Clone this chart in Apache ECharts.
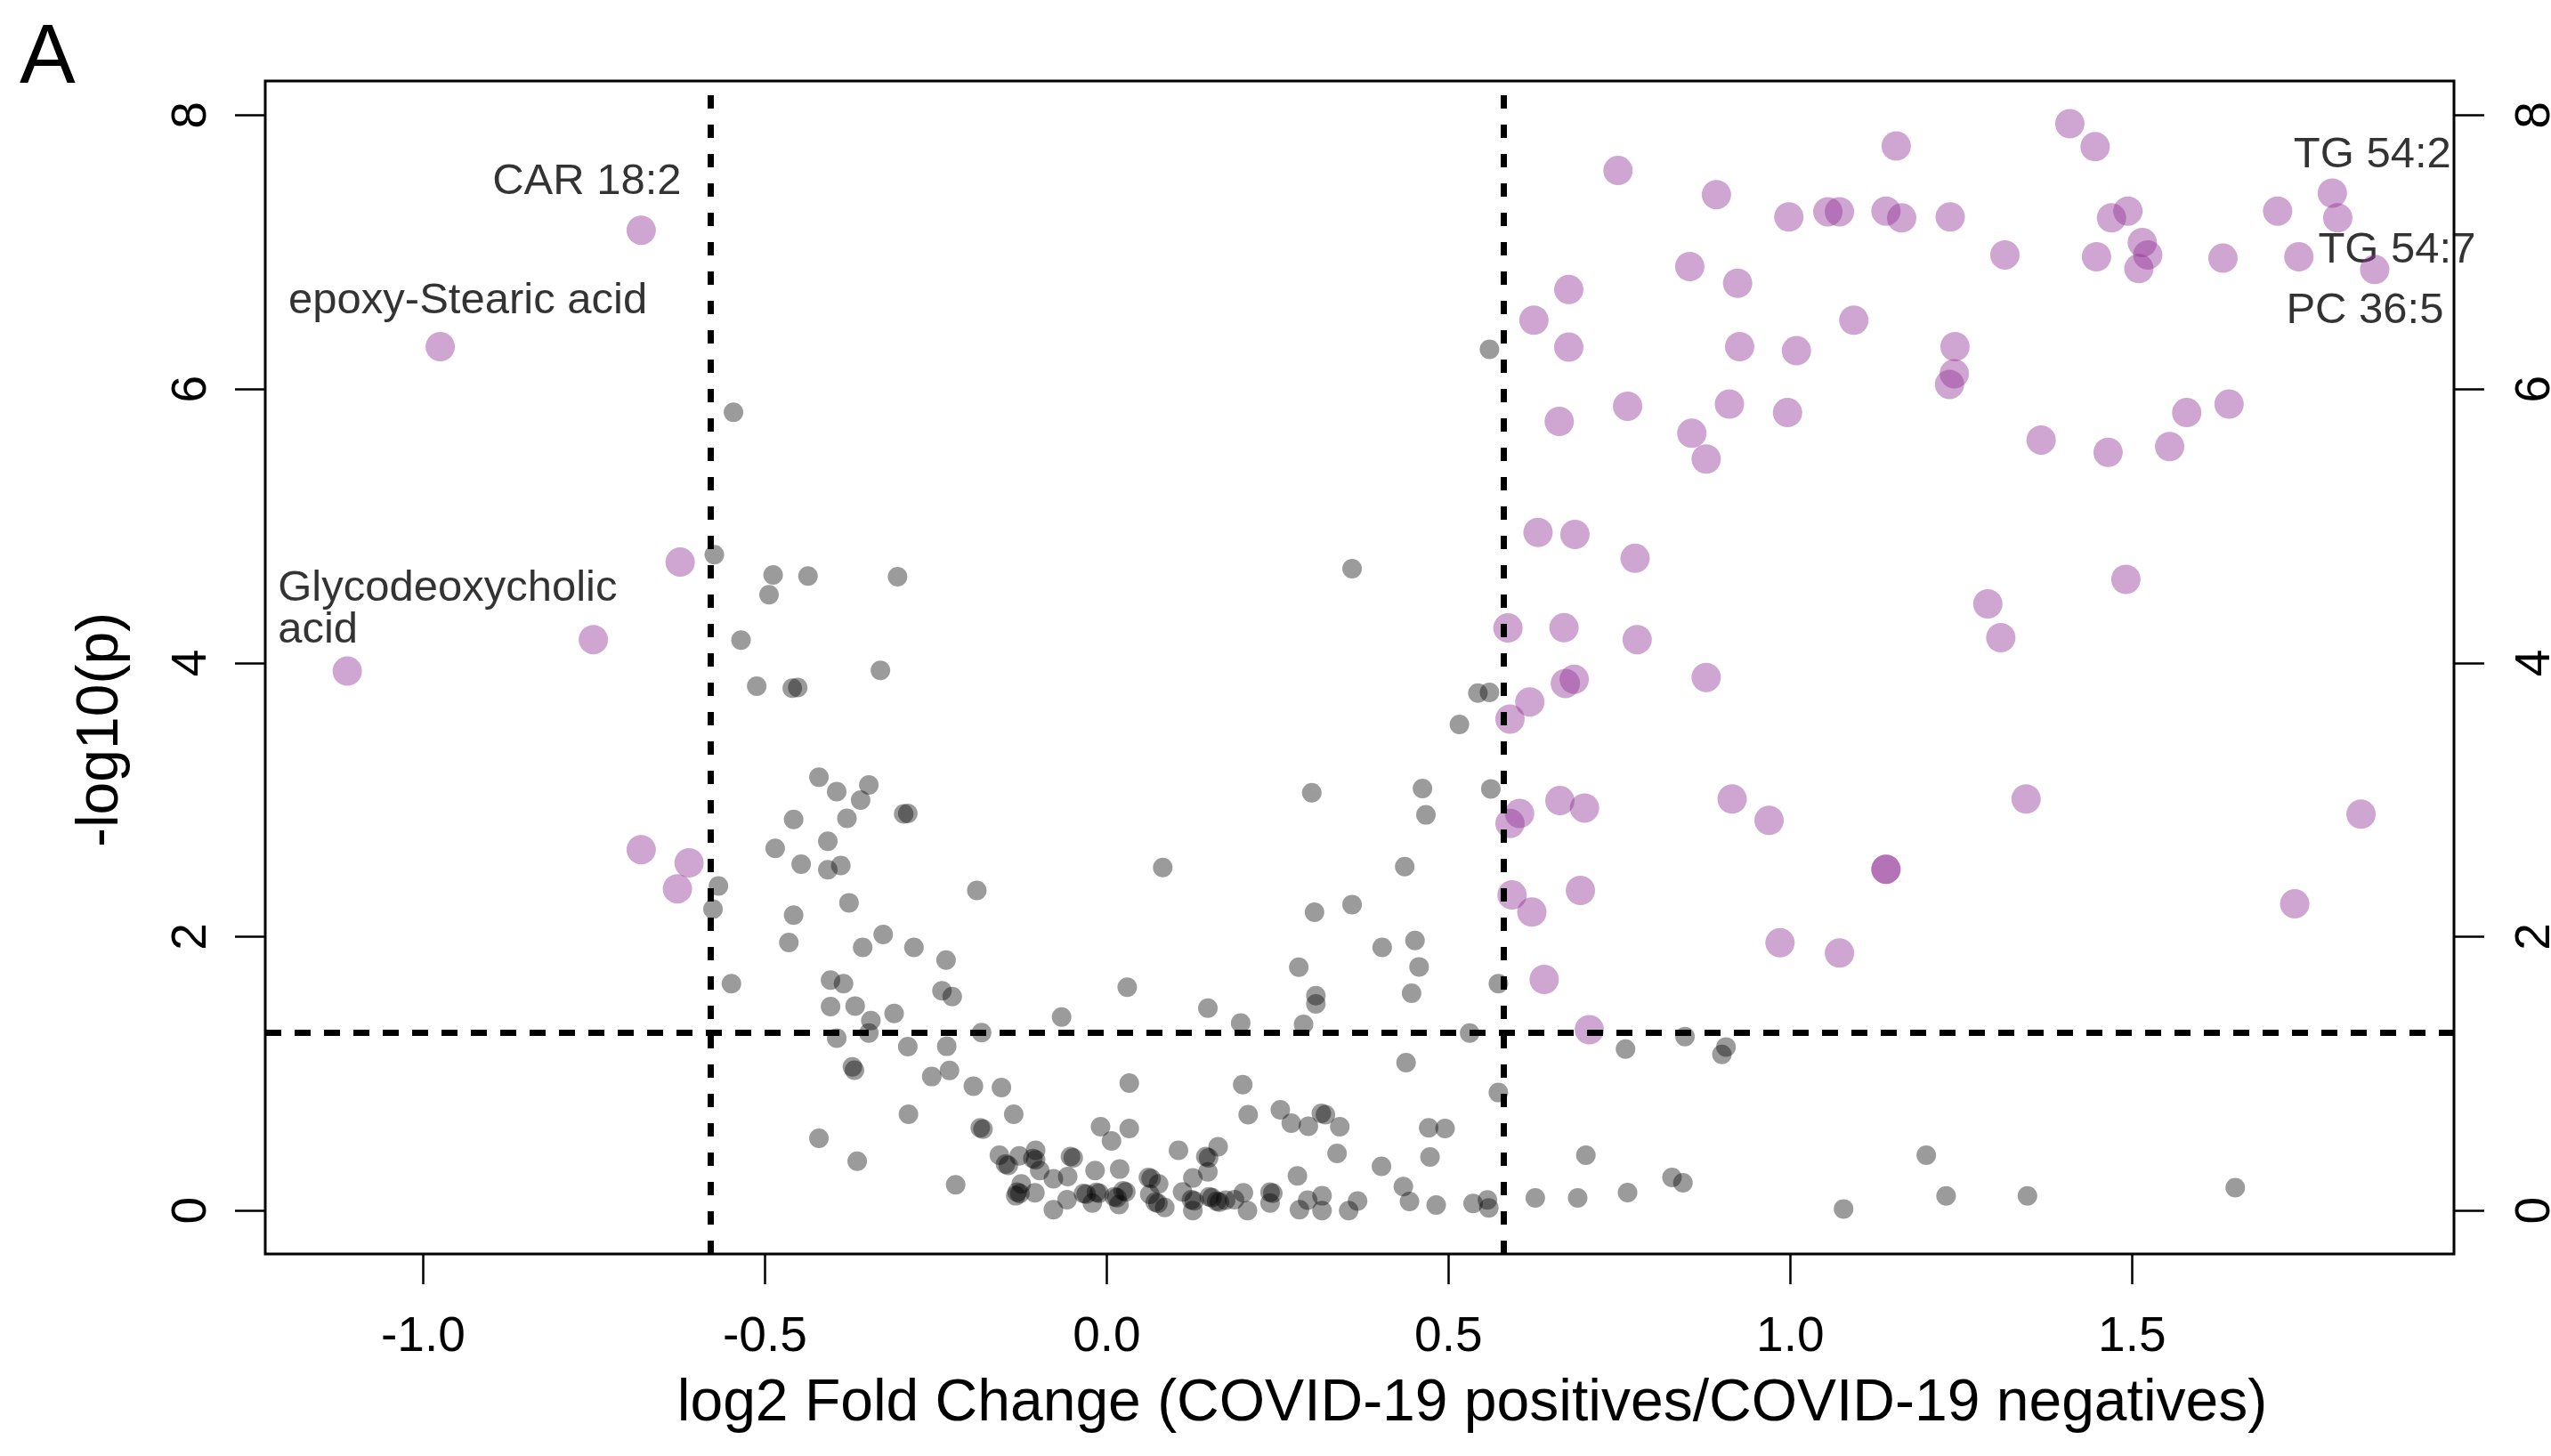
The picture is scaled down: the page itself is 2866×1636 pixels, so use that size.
<!DOCTYPE html>
<html><head><meta charset="utf-8">
<script src="https://cdn.jsdelivr.net/npm/echarts@6/dist/echarts.min.js"></script>
<style>html,body{margin:0;padding:0;background:#fff}#c{width:2866px;height:1636px}</style>
</head><body><div id="c"></div>
<script>
// Significant metabolites (purple): log2 fold change and -log10(p)
const sigX = [-0.681,-0.975,-0.624,-0.751,-1.111,-0.681,-0.611,-0.628,
  1.409,1.446,1.155,0.748,0.892,0.998,1.055,1.072,1.14,1.163,1.234,1.47,1.494,1.713,1.793,1.801,
  1.314,1.448,1.515,1.523,1.51,1.633,1.744,1.855,0.853,0.923,0.676,0.625,1.093,0.676,0.926,1.009,
  1.241,1.24,1.233,0.762,0.911,0.996,1.642,1.58,0.662,0.856,0.877,1.367,1.465,1.555,0.631,0.685,
  0.773,1.491,1.289,1.308,0.587,0.669,0.776,0.671,0.684,0.877,0.619,0.59,0.663,0.699,0.604,0.59,
  0.915,0.969,1.345,1.835,1.14,1.14,0.593,0.693,0.622,1.738,0.985,1.072,0.64,0.706];
const sigY = [7.16,6.31,4.736,4.17,3.94,2.636,2.54,2.35,
  7.938,7.77,7.775,7.596,7.42,7.257,7.295,7.295,7.30,7.25,7.257,7.25,7.30,7.30,7.431,7.25,
  6.98,6.966,7.07,6.98,6.88,6.956,6.966,6.873,6.895,6.773,6.727,6.503,6.503,6.306,6.31,6.28,
  6.31,6.112,6.034,5.875,5.89,5.828,5.89,5.828,5.764,5.677,5.489,5.628,5.538,5.58,4.953,4.938,
  4.764,4.61,4.431,4.184,4.255,4.257,4.17,3.85,3.88,3.894,3.715,3.59,2.994,2.94,2.90,2.827,
  3.006,2.85,3.006,2.895,2.493,2.493,2.305,2.338,2.18,2.24,1.956,1.881,1.688,1.321];

// Non-significant metabolites (grey)
const nsX = [-0.546,-0.574,-0.488,-0.437,-0.306,-0.494,-0.535,-0.331,-0.512,-0.46,-0.452,-0.421,-0.395,
  -0.348,-0.36,-0.297,-0.291,-0.458,-0.38,-0.408,-0.485,-0.447,-0.408,-0.389,-0.568,-0.576,-0.549,
  -0.377,-0.458,-0.465,-0.327,-0.357,-0.282,-0.235,-0.404,-0.385,-0.241,-0.226,-0.404,-0.368,-0.311,
  -0.345,-0.348,-0.395,-0.066,-0.19,-0.372,-0.369,-0.421,-0.365,
  0.03,0.082,0.148,0.196,0.288,0.281,0.30,0.304,0.359,0.306,0.306,0.403,0.436,0.451,0.457,0.446,
  0.462,0.467,0.516,0.562,0.573,0.531,0.438,0.573,0.471,0.495,0.473,0.402,0.434,0.443,0.482,0.536,
  0.557,0.559,0.367,0.359,0.56,0.543,0.56,0.759,0.846,0.906,0.9,0.701,1.199,0.827,0.843,0.762,
  0.689,0.627,1.078,1.228,1.347,1.651,
  -0.291,-0.234,-0.256,-0.23,-0.195,-0.154,0.033,0.199,-0.29,-0.136,-0.185,-0.181,-0.009,0.033,
  0.007,0.207,0.254,0.27,0.295,0.314,0.32,0.341,0.337,0.279,-0.221,0.105,0.163,0.145,0.149,0.148,
  0.126,-0.157,-0.148,-0.144,-0.128,-0.104,-0.108,-0.104,-0.098,-0.078,-0.057,-0.053,-0.049,-0.017,
  0.019,-0.125,-0.131,-0.127,-0.105,-0.133,-0.078,-0.058,-0.034,-0.030,-0.015,-0.011,-0.021,0.011,
  0.015,0.024,0.028,0.018,0.061,0.065,0.076,0.063,0.071,0.075,0.085,0.111,0.124,0.128,0.126,0.15,
  0.154,0.161,0.165,0.174,0.187,0.2,0.206,0.239,0.243,0.239,0.282,0.294,0.315,0.315,0.354,-0.183];
const nsY = [5.83,4.79,4.642,4.634,4.63,4.498,4.167,3.946,3.83,3.815,3.82,3.165,3.06,
  3.108,2.998,2.897,2.9,2.857,2.865,2.697,2.646,2.53,2.49,2.52,2.371,2.202,1.658,
  2.248,2.158,1.958,2.017,1.922,1.922,1.83,1.683,1.657,1.606,1.563,1.49,1.494,1.44,
  1.388,1.297,1.26,1.414,2.338,1.05,1.025,0.528,0.36,
  1.632,2.505,1.478,1.37,1.36,1.778,3.052,2.179,2.235,1.57,1.51,1.922,2.512,1.973,1.78,1.588,
  3.082,2.89,3.55,3.08,1.658,1.297,1.08,0.862,0.605,0.6,0.392,0.323,0.176,0.066,0.04,0.052,
  0.078,0.02,0.07,4.688,6.29,3.78,3.785,1.18,1.27,1.195,1.14,0.405,0.405,0.242,0.203,0.131,
  0.092,0.092,0.012,0.107,0.107,0.167,
  1.197,1.20,0.979,1.024,0.909,0.899,0.931,0.92,0.704,0.704,0.605,0.595,0.613,0.6,
  0.509,0.70,0.736,0.639,0.616,0.71,0.70,0.613,0.418,0.253,0.188,0.44,0.466,0.395,0.385,0.282,
  0.238,0.405,0.34,0.33,0.40,0.44,0.38,0.37,0.292,0.232,0.249,0.395,0.385,0.292,
  0.303,0.195,0.135,0.125,0.13,0.108,0.007,0.08,0.125,0.12,0.133,0.127,0.055,0.1,
  0.094,0.145,0.137,0.044,0.242,0.234,0.195,0.119,0.062,0.054,0.022,0.136,0.08,0.072,0.0,0.1,
  0.094,0.068,0.062,0.076,0.08,0.13,0.0,0.134,0.126,0.055,0.007,0.076,0.108,0.0,0.0,1.30];

const xTicks = [-1, -0.5, 0, 0.5, 1, 1.5];
const yTicks = [0, 2, 4, 6, 8];
const fcCut = [-0.585, 0.585];   // log2(1.5)
const pCut = 1.301;              // -log10(0.05)

const labelNames = ['CAR 18:2', 'epoxy-Stearic acid', 'Glycodeoxycholic\nacid', 'TG 54:2', 'TG 54:7', 'PC 36:5'];
const labelIdx = [0, 1, 4, 22, 31, 31];   // which significant point each label belongs to

const FONT = '"Liberation Sans", Arial, Helvetica, sans-serif';
const labelLook = [
  {offset: [-61, -54], align: 'center'},
  {offset: [31, -51], align: 'center'},
  {offset: [-78, -69], align: 'left'},
  {offset: [45, -43], align: 'center'},
  {offset: [25, -21], align: 'center'},
  {offset: [-11, 47], align: 'center'}
];

const sigData = sigX.map((x, i) => [x, sigY[i]]);
const nsData = nsX.map((x, i) => [x, nsY[i]]);
const labelData = labelNames.map((n, k) => ({
  value: [sigX[labelIdx[k]], sigY[labelIdx[k]]],
  label: {
    show: true, position: 'inside', formatter: n,
    offset: labelLook[k].offset, align: labelLook[k].align, verticalAlign: 'middle',
    color: '#000', fontSize: 49, fontFamily: FONT, lineHeight: 47
  }
}));

const vLine = {color: '#000', width: 7, type: [15, 18]};
const hLine = {color: '#000', width: 7, type: [18, 15]};

const chart = echarts.init(document.getElementById('c'), null, {renderer: 'canvas'});
const tickStyle = {color: '#000', width: 2.5};
chart.setOption({
  animation: false,
  backgroundColor: '#fff',
  grid: {left: 298, right: 109, top: 91, bottom: 227, show: true, borderColor: '#000', borderWidth: 3,
    backgroundColor: 'transparent', containLabel: false, outerBoundsMode: 'none'},
  xAxis: {
    type: 'value', min: -1.231, max: 1.971, position: 'bottom',
    axisLine: {show: false, onZero: false}, splitLine: {show: false},
    axisTick: {show: true, length: 34, lineStyle: tickStyle, customValues: xTicks},
    axisLabel: {customValues: xTicks, formatter: v => v.toFixed(1), fontSize: 55, fontFamily: FONT, color: '#000', margin: 66}
  },
  yAxis: [{
    type: 'value', min: -0.317, max: 8.25, position: 'left',
    axisLine: {show: false, onZero: false}, splitLine: {show: false},
    axisTick: {show: true, length: 34, lineStyle: tickStyle, customValues: yTicks},
    axisLabel: {customValues: yTicks, formatter: v => String(v), rotate: 90, fontSize: 55, fontFamily: FONT, color: '#000', margin: 55}
  }, {
    type: 'value', min: -0.317, max: 8.25, position: 'right',
    axisLine: {show: false, onZero: false}, splitLine: {show: false},
    axisTick: {show: true, length: 34, lineStyle: tickStyle, customValues: yTicks},
    axisLabel: {customValues: yTicks, formatter: v => String(v), rotate: 90, fontSize: 55, fontFamily: FONT, color: '#000', margin: 64}
  }],
  series: [
    {type: 'scatter', z: 1, silent: true, symbolSize: 1, itemStyle: {color: 'rgba(0,0,0,0)'}, data: labelData},
    {type: 'scatter', z: 2, silent: true, symbolSize: 22, itemStyle: {color: 'rgba(0,0,0,0.49)', borderWidth: 0}, data: nsData},
    {type: 'scatter', z: 3, silent: true, symbolSize: 33, itemStyle: {color: 'rgba(146,50,151,0.55)', borderWidth: 0}, data: sigData},
    {type: 'scatter', z: 4, silent: true, data: [],
      markLine: {silent: true, symbol: ['none', 'none'], label: {show: false},
        lineStyle: hLine,
        data: [{xAxis: fcCut[0], lineStyle: vLine}, {xAxis: fcCut[1], lineStyle: vLine}, {yAxis: pCut, lineStyle: hLine}]}}
  ],
  graphic: [
    {type: 'text', x: 22, y: 67, silent: true, style: {text: 'A', fontSize: 94, fontFamily: FONT, fill: '#000', align: 'left', verticalAlign: 'middle'}},
    {type: 'text', x: 1654, y: 1578, silent: true, style: {text: 'log2 Fold Change (COVID-19 positives/COVID-19 negatives)', fontSize: 66, fontFamily: FONT, fill: '#000', align: 'center', verticalAlign: 'middle'}},
    {type: 'text', x: 114, y: 820, rotation: Math.PI / 2, silent: true, style: {text: '-log10(p)', fontSize: 66, fontFamily: FONT, fill: '#000', align: 'center', verticalAlign: 'middle'}}
  ]
});
</script>
</body></html>
